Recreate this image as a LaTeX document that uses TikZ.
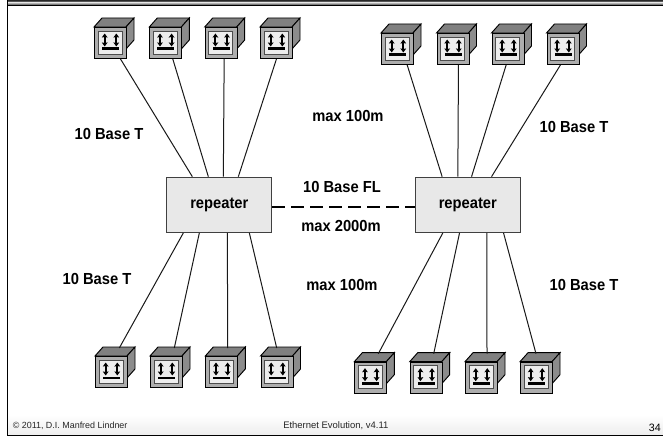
\documentclass[tikz,border=0pt]{standalone}
\usepackage{fontspec}
\setmainfont{Liberation Sans}
\newfontfamily\labfont[FakeStretch=0.92]{Liberation Sans}
\usetikzlibrary{calc,arrows.meta}
\definecolor{boxfill}{gray}{0.91}
\definecolor{cubeside}{gray}{0.55}
\definecolor{cubetop}{gray}{0.5}
\definecolor{cubefront}{gray}{0.68}
\definecolor{cubein}{gray}{0.93}
\tikzset{
  x=0.75pt,y=-0.75pt,
  link/.style={draw=black!90,line width=0.75pt},
  fiber/.style={draw=black,line width=1.5pt,dash pattern=on 9.75pt off 4.5pt},
  repbox/.style={draw=black!75,fill=boxfill,line width=0.7pt,minimum width=78.75pt,minimum height=41.5pt,inner sep=0pt,font=\labfont\fontsize{12}{14}\selectfont\bfseries},
  lab/.style={font=\labfont\fontsize{12}{14}\selectfont\bfseries,inner sep=0pt},
  foot/.style={font=\fontsize{6.7}{8}\selectfont,inner sep=0pt,text=black!85},
  cubeface/.style={draw=black,line width=0.7pt,fill=cubefront,minimum width=24pt,minimum height=23.25pt,inner sep=0pt,anchor=north west},
  cubeedge/.style={draw=black,line width=0.7pt},
  arrowmark/.style={line width=1.6pt,black,{Stealth[length=3pt,width=4.2pt,inset=0.4pt]}-{Stealth[length=3pt,width=4.2pt,inset=0.4pt]}},
}
\newcommand{\cubeat}[3]{%
  \path[cubeedge,fill=cubetop] (#2,#3) -- ++(8,-9) -- ++(32,0) -- ++(-8,9) -- cycle;
  \path[cubeedge,fill=cubeside] (#2+32,#3) -- ++(8,-9) -- ++(0,22) -- ++(-8,9) -- cycle;
  \node[cubeface] (#1) at (#2,#3) {};
  \path[draw=black!70,line width=0.7pt,fill=cubein] (#2+4,#3+4) rectangle (#2+28,#3+27);
  \draw[arrowmark] (#2+10.7,#3+6.5) -- (#2+10.7,#3+19.5);
  \draw[arrowmark] (#2+22.3,#3+6.5) -- (#2+22.3,#3+19.5);
  \path[fill=black] (#2+8,#3+20.5) rectangle (#2+25,#3+23);
  \coordinate (#1-t) at (#2,#3-8);
}
\begin{document}
\begin{tikzpicture}
\useasboundingbox (0,0) rectangle (663,438);
\fill[white] (0,0) rectangle (663,438);
% footer shade
\shade[top color=white,bottom color=black!7] (7,415) rectangle (663,435);
% top band
\shade[top color=black!85,bottom color=black!30] (7,0) rectangle (663,3);
\shade[top color=black!30,bottom color=black!85] (7,3) rectangle (663,5.5);
\fill[black] (7,5.5) rectangle (663,6.5);
% frame
\fill[black] (6.5,0) rectangle (8,436);
\fill[black] (6.5,434.7) rectangle (663,436);
% repeaters
\node[repbox] (rl) at (219.3,204.8) {\raisebox{-1.5pt}{repeater}};
\node[repbox] (rr) at (467.8,204.8) {\raisebox{-1.5pt}{repeater}};
% cubes
\cubeat{a1}{94}{27}\cubeat{a2}{149.3}{27}\cubeat{a3}{204.7}{27}\cubeat{a4}{260}{27}
\cubeat{b1}{381}{33}\cubeat{b2}{436.5}{33}\cubeat{b3}{491.5}{33}\cubeat{b4}{546.5}{33}
\cubeat{c1}{95}{356}\cubeat{c2}{150}{356}\cubeat{c3}{205.3}{356}\cubeat{c4}{260.5}{356}
\cubeat{d1}{354.3}{361.7}\cubeat{d2}{409.7}{361.7}\cubeat{d3}{465}{361.7}\cubeat{d4}{520}{361.7}
% links
\draw[link] ($(a1.south)+(10,0)$) -- ($(rl.north west)+(26,0)$);
\draw[link] ($(a2.south)+(7,0)$) -- ($(rl.north west)+(42,0)$);
\draw[link] ($(a3.south)+(3,0)$) -- ($(rl.north west)+(57,0)$);
\draw[link] (a4.south) -- ($(rl.north west)+(72,0)$);
\draw[link] ($(b1.south)+(9.7,0)$) -- ($(rr.north west)+(27.3,0)$);
\draw[link] ($(b2.south)+(5.5,0)$) -- ($(rr.north west)+(43,0)$);
\draw[link] ($(b3.south)+(-1.8,0)$) -- ($(rr.north west)+(56.7,0)$);
\draw[link] ($(b4.south)+(-2.5,0)$) -- ($(rr.north west)+(76.7,0)$);
\draw[link] ($(rl.south west)+(17,0)$) -- ($(c1-t)+(24.3,0)$);
\draw[link] ($(rl.south west)+(33,0)$) -- ($(c2-t)+(24.3,0)$);
\draw[link] ($(rl.south west)+(61,0)$) -- ($(c3-t)+(22.4,0)$);
\draw[link] ($(rl.south west)+(83,0)$) -- ($(c4-t)+(16.2,0)$);
\draw[link] ($(rr.south west)+(28,0)$) -- ($(d1-t)+(24,0)$);
\draw[link] ($(rr.south west)+(44.7,0)$) -- ($(d2-t)+(24,0)$);
\draw[link] ($(rr.south west)+(72,0)$) -- ($(d3-t)+(22,0)$);
\draw[link] ($(rr.south west)+(88.7,0)$) -- ($(d4-t)+(16,0)$);
\draw[fiber] ($(rl.east)+(0,2)$) -- ($(rr.west)+(0,2)$);
% labels
\node[lab] (l1) at (109,134) {10 Base T};
\node[lab] (l2) at (97,279) {10 Base T};
\node[lab] (l3) at (574,127) {10 Base T};
\node[lab] (l4) at (584,285) {10 Base T};
\node[lab] (l5) at (348,116) {max 100m};
\node[lab] (l6) at (342,285) {max 100m};
\node[lab] (l7) at (342,187) {10 Base FL};
\node[lab] (l8) at (341,226) {max 2000m};
\node[foot,anchor=west] (f1) at (12.5,426) {© 2011, D.I. Manfred Lindner};
\node[foot,anchor=west,font=\fontsize{7.1}{8}\selectfont] (f2) at (283,426) {Ethernet Evolution, v4.11};
\node[font=\fontsize{8}{9}\selectfont,inner sep=0pt,anchor=east] (f3) at (661,428) {34};
\end{tikzpicture}
\end{document}
